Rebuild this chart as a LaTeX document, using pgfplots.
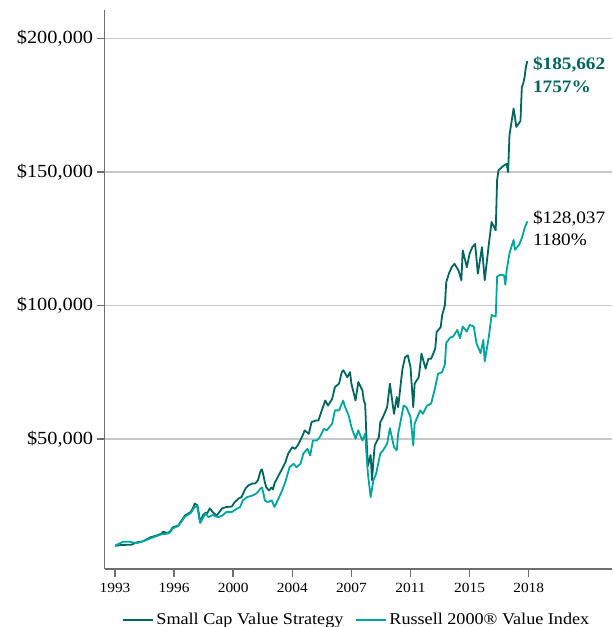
\documentclass[border=0pt]{standalone}
\usepackage{pgfplots}
\pgfplotsset{compat=1.18}
\usepackage{fontspec}
\setmainfont{Liberation Serif}[FakeStretch=1.1]
\definecolor{darkteal}{RGB}{0,102,94}
\definecolor{lightteal}{RGB}{0,166,160}
\definecolor{axgray}{RGB}{110,110,110}
\definecolor{gridgray}{RGB}{200,200,200}
\begin{document}
\begin{tikzpicture}
\useasboundingbox (0pt,0pt) rectangle (613pt,627pt);
\begin{axis}[
 at={(104.7pt,58pt)}, anchor=south west,
 scale only axis, width=507.3pt, height=559pt,
 xmin=-7.5, xmax=361.6, ymin=1300, ymax=210600,
 axis x line*=bottom, axis y line*=left,
 axis line style={axgray, line width=1.5pt},
 xtick={0,43,86,129,172,215,258,301},
 xticklabels={1993,1996,2000,2004,2007,2011,2015,2018},
 ytick={50000,100000,150000,200000},
 yticklabels={{\$50,000},{\$100,000},{\$150,000},{\$200,000}},
 scaled y ticks=false,
 tick style={axgray, line width=1.5pt},
 major tick length=8pt,
 tick align=outside,
 ymajorgrids, grid style={gridgray, line width=1.5pt},
 x tick label style={font=\fontsize{14}{16}\selectfont, yshift=-3pt},
 y tick label style={font=\fontsize{18.5}{21}\selectfont},
 legend columns=2,
 legend style={at={(0.497,-0.091)}, anchor=center, draw=none, fill=none,
   font=\fontsize{16.5}{18}\selectfont,
   /tikz/every even column/.append style={column sep=10pt}},
 legend image code/.code={\draw[#1,line width=2pt] (0pt,0pt) -- (30pt,0pt);},
 every axis plot/.append style={line width=1.8pt, line join=round},
]
\addplot[darkteal] coordinates {
(0,10000)(5,10300)(12,10400)(16,11300)(20,11600)(26,13200)(30,13800)(34,14600)(35,15300)(38,14800)(40,15300)(42,16900)(46,17600)(49,19900)(51,21400)(55,22600)(57,24400)(58,25800)(60,25100)(61,22000)(62,18800)(64,21500)(66,22400)(67,22100)(69,24000)(71,22600)(74,21300)(78,24000)(81,24500)(85,24700)(87,26300)(90,27700)(92,28200)(95,31500)(97,32600)(100,33300)(102,33300)(104,34500)(106,38200)(107,38600)(108,36300)(109,33800)(110,31900)(112,30700)(114,31800)(115,31100)(116,33300)(119,36300)(121,38200)(124,41300)(126,44500)(129,46900)(131,46300)(133,47600)(136,50700)(138,53200)(141,51900)(143,56300)(146,56900)(148,56900)(150,60000)(153,64400)(155,62500)(158,65000)(160,69400)(163,70700)(165,75000)(166,75700)(167,75000)(169,73100)(171,75000)(172,70700)(175,64400)(177,71300)(180,68200)(181,64400)(182,63000)(183,50000)(184,40000)(186,44000)(187,34500)(188,41900)(189,47600)(192,50700)(193,56300)(195,58200)(198,61900)(200,70700)(203,59400)(205,65700)(206,61900)(209,75700)(211,80600)(213,81300)(215,76900)(217,61900)(218,70700)(221,73100)(223,81900)(224,80000)(226,76300)(228,80000)(230,80000)(233,83800)(234,90000)(237,91900)(238,96300)(240,100000)(241,108700)(243,112000)(245,114300)(247,115600)(250,113000)(252,109400)(253,120600)(256,114300)(258,119400)(260,121800)(262,123000)(264,111900)(267,121800)(269,109400)(272,123000)(274,131200)(277,128100)(278,146800)(279,150600)(283,152400)(285,153000)(286,149900)(287,163700)(290,173700)(291,170500)(292,166800)(295,169100)(296,181800)(297,183000)(298,185500)(299,189400)(300,191500)
};
\addlegendentry{Small Cap Value Strategy}
\addplot[lightteal] coordinates {
(0,10000)(3,10800)(6,11500)(11,11500)(12,11300)(16,11000)(20,11600)(26,12800)(30,13600)(34,14300)(38,14500)(40,15000)(42,16500)(46,17400)(49,19500)(51,21000)(55,22200)(58,24500)(60,24800)(61,21000)(62,18500)(64,20500)(66,22100)(68,20700)(71,21500)(75,20700)(78,21300)(81,22600)(85,22600)(89,24000)(91,24500)(93,27000)(96,28200)(100,28800)(103,29600)(106,31500)(107,31800)(108,29600)(109,27000)(111,26300)(114,27000)(115,25800)(116,24500)(119,27700)(121,30000)(124,34000)(127,39400)(130,40700)(132,39400)(135,40700)(137,44500)(140,46300)(142,43800)(144,49400)(147,49400)(149,50700)(152,53800)(154,53200)(158,55700)(160,60700)(163,60700)(165,63200)(166,64400)(167,62500)(170,58800)(172,54400)(175,50100)(177,53200)(180,49400)(182,52000)(183,44000)(184,37000)(186,28200)(188,34500)(190,37000)(193,44500)(195,45700)(198,48200)(200,54000)(203,46900)(205,45700)(206,51900)(210,62500)(212,61900)(215,58200)(217,47600)(218,55700)(222,60700)(224,59400)(227,62500)(230,63200)(233,69400)(235,74400)(238,75000)(240,78000)(241,86000)(244,88000)(246,88300)(249,90800)(251,87700)(253,92100)(256,90200)(258,92700)(261,92100)(263,85800)(266,82100)(268,87100)(269,79000)(272,88300)(274,96400)(277,95800)(278,110800)(280,111400)(283,111400)(284,107700)(285,113300)(287,119500)(290,124500)(291,120800)(294,122700)(296,125200)(298,128900)(300,131500)
};
\addlegendentry{Russell 2000\textregistered{} Value Index}
\node[anchor=north west, align=left, inner sep=0pt, text=darkteal,
  font=\fontsize{17.5}{22.5}\selectfont\bfseries] at (axis cs:304,193000) {\$185,662\\1757\%};
\node[anchor=north west, align=left, inner sep=0pt, text=black,
  font=\fontsize{17.5}{22.5}\selectfont] at (axis cs:304,135500) {\$128,037\\1180\%};
\end{axis}
\end{tikzpicture}
\end{document}
